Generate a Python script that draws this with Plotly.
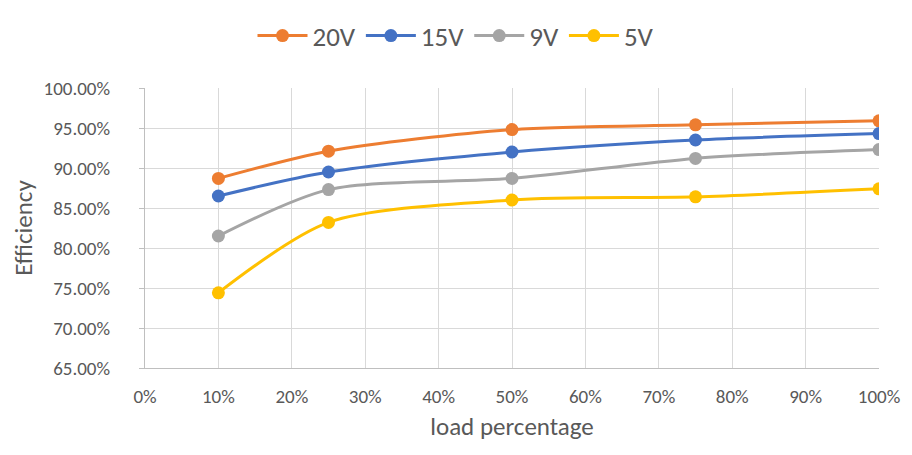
import plotly.graph_objects as go

load = [0.10, 0.25, 0.50, 0.75, 1.00]
eff_20v = [0.887, 0.921, 0.948, 0.954, 0.959]
eff_15v = [0.865, 0.895, 0.920, 0.935, 0.943]
eff_9v = [0.815, 0.873, 0.887, 0.912, 0.923]
eff_5v = [0.744, 0.832, 0.860, 0.864, 0.874]

series = [("20V", eff_20v, "#ED7D31"), ("15V", eff_15v, "#4472C4"),
          ("9V", eff_9v, "#A5A5A5"), ("5V", eff_5v, "#FFC000")]

fig = go.Figure()
for name, vals, col in series:
    fig.add_trace(go.Scatter(x=load, y=vals, name=name, mode="lines+markers",
                             line=dict(color=col, width=3, shape="spline", smoothing=0.8),
                             marker=dict(color=col, size=13)))

font_family = "Carlito, Calibri, Lato, sans-serif"
# page body has an 8px margin, so the figure is sized/offset to compensate
fig.update_layout(
    width=896, height=439,
    margin=dict(l=137, r=25, t=80, b=79, autoexpand=False),
    paper_bgcolor="white", plot_bgcolor="white",
    font=dict(family=font_family, color="#595959"),
    legend=dict(orientation="h", x=0.5, xanchor="center", xref="container",
                y=1 - 28 / 439, yanchor="middle", yref="container",
                font=dict(size=27, color="#595959"),
                itemwidth=50, tracegroupgap=0),
    showlegend=True,
)
fig.update_xaxes(range=[0, 1.0], dtick=0.1, tick0=0, tickformat=".0%",
                 showgrid=True, gridcolor="#D9D9D9", gridwidth=1.3,
                 zeroline=False, showline=True, linecolor="#BFBFBF", linewidth=1.3,
                 automargin=False, ticklabelstandoff=11,
                 tickfont=dict(size=19, color="#595959"),
                 title=dict(text="load percentage", font=dict(size=25, color="#595959"), standoff=10))
fig.update_yaxes(range=[0.65, 1.0], dtick=0.05, tick0=0.65, tickformat=".2%",
                 showgrid=True, gridcolor="#D9D9D9", gridwidth=1.3,
                 zeroline=False, showline=True, linecolor="#BFBFBF", linewidth=1.3,
                 ticks="outside", ticklen=5, tickcolor="#BFBFBF",
                 automargin=False, ticklabelstandoff=25,
                 tickfont=dict(size=19, color="#595959"),
                 title=dict(text="Efficiency", font=dict(size=25, color="#595959"), standoff=4))

fig.write_html("out.html")
